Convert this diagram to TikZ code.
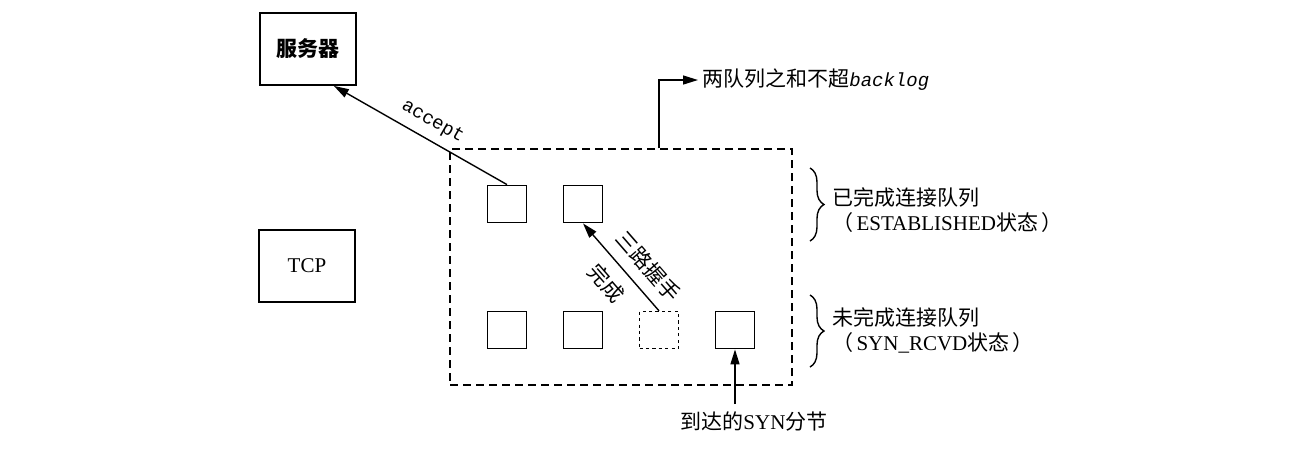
\documentclass[tikz,border=0pt]{standalone}
\usepackage{fontspec}
\setmainfont{Liberation Serif}
\setmonofont{Liberation Mono}
\newfontfamily\cjk{Noto Sans CJK SC}
\newcommand{\zh}[1]{{\cjk #1}}
\usetikzlibrary{arrows.meta, decorations.pathreplacing}

\begin{document}
\begin{tikzpicture}[x=0.5pt, y=-0.5pt,
  every node/.style={font=\fontsize{10.5}{12.5}\selectfont},
  bigbox/.style={draw, line width=0.9pt, minimum width=48pt, minimum height=36pt, inner sep=0pt},
  slot/.style={draw, line width=0.9pt, minimum width=19.5pt, minimum height=18.5pt, inner sep=0pt},
  freeslot/.style={slot, dash pattern=on 1.6pt off 1.6pt, line width=0.7pt},
  arr/.style={-{Triangle[length=7.5pt, width=4.5pt]}, line width=0.7pt},
  qbrace/.style={decorate, decoration={brace, amplitude=7pt}, line width=0.7pt}
]

% Page
\useasboundingbox (0,0) rectangle (1308,452);

% === PROCESSES ===
\node[bigbox] (srv) at (308,49) {\zh{\bfseries 服务器}};
\node[bigbox] (tcp) at (307,266) {TCP};

% === QUEUES ===
\node[draw, dash pattern=on 4pt off 2.5pt, line width=0.7pt, minimum width=171pt, minimum height=118pt, inner sep=0pt] (queue) at (621,267) {};

% completed queue
\node[slot] (done1) at (507,204) {};
\node[slot] (done2) at (583,204) {};

% incomplete queue
\node[slot] (wait1) at (507,330) {};
\node[slot] (wait2) at (583,330) {};
\node[freeslot] (wait3) at (659,330) {};
\node[slot] (wait4) at (735,330) {};

% === CONNECTORS ===
\draw[arr] (done1.north) -- node[sloped, above=1pt, pos=0.48, font=\ttfamily\fontsize{9.5}{11}\selectfont] {accept} (srv.-55);
\draw[arr] (wait3.north) -- node[sloped, above=2pt, pos=0.35] {\zh{三路握手}} node[sloped, below=2pt, pos=0.48] {\zh{完成}} (done2.south);

\node[anchor=west, inner sep=2pt] (sum) at (698,80) {\zh{两队列之和不超}{\ttfamily\itshape\fontsize{9.5}{11}\selectfont backlog}};
\draw[arr] (queue.north -| wait3) |- (sum.west);

\node (syn) at (754,421) {\zh{到达的}SYN\zh{分节}};
\draw[arr] (syn.north -| wait4) -- (wait4.south);

% === BRACES ===
\draw[qbrace] (810,168) -- (810,241);
\node[anchor=west, align=left] (est) at (825,210) {\zh{已完成连接队列}\\\zh{（}\,ESTABLISHED\zh{状态}\,\zh{）}};

\draw[qbrace] (810,295) -- (810,367);
\node[anchor=west, align=left] (rcvd) at (825,330) {\zh{未完成连接队列}\\\zh{（}\,SYN\_RCVD\zh{状态}\,\zh{）}};

\end{tikzpicture}
\end{document}
